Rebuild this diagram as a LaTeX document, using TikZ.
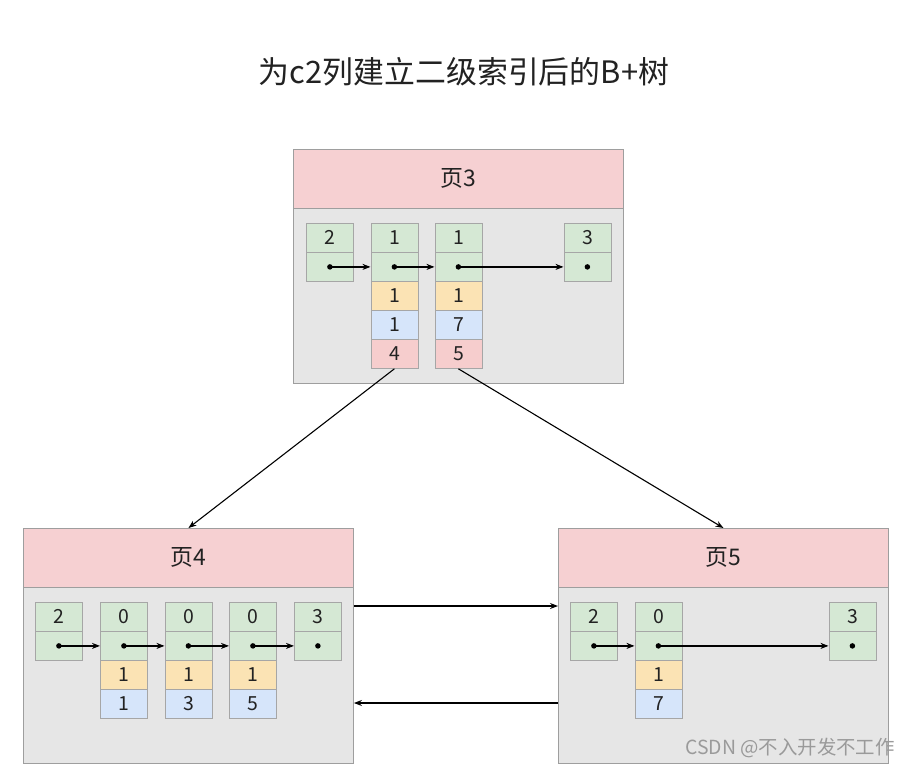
\documentclass[tikz,border=0pt]{standalone}
\usepackage{fontspec}
\newfontfamily\cjk{Noto Sans CJK SC}
\usetikzlibrary{arrows.meta}
\definecolor{phead}{HTML}{F6D0D2}
\definecolor{pbody}{HTML}{E6E6E6}
\definecolor{pline}{HTML}{9E9E9E}
\definecolor{cline}{HTML}{A6A6A6}
\definecolor{cg}{HTML}{D5E8D4}
\definecolor{co}{HTML}{FBE3B4}
\definecolor{cb}{HTML}{D6E5FA}
\definecolor{cr}{HTML}{F6CDCD}
\definecolor{wm}{HTML}{9A9A9A}
\definecolor{txt}{HTML}{222222}
\tikzset{
  cell/.style={draw=cline, line width=0.8bp, minimum width=47bp, minimum height=29bp, inner sep=0pt, anchor=north west, text=txt, font=\cjk\fontsize{19.5}{19.5}\selectfont},
  gcell/.style={cell, fill=cg},
  ocell/.style={cell, fill=co},
  bcell/.style={cell, fill=cb},
  rcell/.style={cell, fill=cr},
  pagehead/.style={draw=pline, line width=0.9bp, fill=phead, minimum width=330bp, minimum height=59bp, inner sep=0pt, anchor=north west, text=txt, font=\cjk\fontsize{23}{23}\selectfont},
  pagebody/.style={draw=pline, line width=0.9bp, fill=pbody, minimum width=330bp, inner sep=0pt, anchor=north west},
  dot/.style={circle, fill=black, inner sep=0pt, minimum size=5.5bp},
  ptr/.style={draw=black, line width=1.4bp, -{Stealth[length=8bp,width=6bp]}},
  link/.style={draw=black, line width=1.1bp, -{Stealth[length=8bp,width=6bp]}},
}
\begin{document}
\begin{tikzpicture}[x=1bp,y=-1bp]
\useasboundingbox[fill=white] (0,0) rectangle (910,771);
% title
\node[font=\cjk\fontsize{31}{31}\selectfont, text=txt] (title) at (464,72) {为c2列建立二级索引后的B+树};
% pages
\node[pagebody, minimum height=175bp] (p3b) at (293,208) {};
\node[pagehead] (p3h) at (293,149) {页3};
\node[pagebody, minimum height=176bp] (p4b) at (23,587) {};
\node[pagehead] (p4h) at (23,528) {页4};
\node[pagebody, minimum height=176bp] (p5b) at (558,587) {};
\node[pagehead] (p5h) at (558,528) {页5};
% page 3 cells
\node[gcell] (t3a) at (306,223) {2};
\node[gcell] (k3a) at (306,252) {};
\node[gcell] (t3b) at (370.5,223) {1};
\node[gcell] (k3b) at (370.5,252) {};
\node[ocell] (o3b) at (370.5,281) {1};
\node[bcell] (b3b) at (370.5,310) {1};
\node[rcell] (r3b) at (370.5,339) {4};
\node[gcell] (t3c) at (434.5,223) {1};
\node[gcell] (k3c) at (434.5,252) {};
\node[ocell] (o3c) at (434.5,281) {1};
\node[bcell] (b3c) at (434.5,310) {7};
\node[rcell] (r3c) at (434.5,339) {5};
\node[gcell] (t3d) at (563.5,223) {3};
\node[gcell] (k3d) at (563.5,252) {};
\node[dot] (d3a) at (k3a.center) {};
\node[dot] (d3b) at (k3b.center) {};
\node[dot] (d3c) at (k3c.center) {};
\node[dot] (d3d) at (k3d.center) {};
\draw[ptr] (d3a.center) -- (k3b.west);
\draw[ptr] (d3b.center) -- (k3c.west);
\draw[ptr] (d3c.center) -- (k3d.west);
% page 4 cells
\node[gcell] (t4a) at (35,602) {2};
\node[gcell] (k4a) at (35,631) {};
\node[gcell] (t4b) at (100,602) {0};
\node[gcell] (k4b) at (100,631) {};
\node[ocell] (o4b) at (100,660) {1};
\node[bcell] (b4b) at (100,689) {1};
\node[gcell] (t4c) at (164.5,602) {0};
\node[gcell] (k4c) at (164.5,631) {};
\node[ocell] (o4c) at (164.5,660) {1};
\node[bcell] (b4c) at (164.5,689) {3};
\node[gcell] (t4d) at (229,602) {0};
\node[gcell] (k4d) at (229,631) {};
\node[ocell] (o4d) at (229,660) {1};
\node[bcell] (b4d) at (229,689) {5};
\node[gcell] (t4e) at (294,602) {3};
\node[gcell] (k4e) at (294,631) {};
\node[dot] (d4a) at (k4a.center) {};
\node[dot] (d4b) at (k4b.center) {};
\node[dot] (d4c) at (k4c.center) {};
\node[dot] (d4d) at (k4d.center) {};
\node[dot] (d4e) at (k4e.center) {};
\draw[ptr] (d4a.center) -- (k4b.west);
\draw[ptr] (d4b.center) -- (k4c.west);
\draw[ptr] (d4c.center) -- (k4d.west);
\draw[ptr] (d4d.center) -- (k4e.west);
% page 5 cells
\node[gcell] (t5a) at (570,602) {2};
\node[gcell] (k5a) at (570,631) {};
\node[gcell] (t5b) at (634.5,602) {0};
\node[gcell] (k5b) at (634.5,631) {};
\node[ocell] (o5b) at (634.5,660) {1};
\node[bcell] (b5b) at (634.5,689) {7};
\node[gcell] (t5e) at (828.5,602) {3};
\node[gcell] (k5e) at (828.5,631) {};
\node[dot] (d5a) at (k5a.center) {};
\node[dot] (d5b) at (k5b.center) {};
\node[dot] (d5e) at (k5e.center) {};
\draw[ptr] (d5a.center) -- (k5b.west);
\draw[ptr] (d5b.center) -- (k5e.west);
% connectors between pages
\draw[link] (r3b.south) -- (p4h.north);
\draw[link] (r3c.south) -- (p5h.north);
\coordinate (h1) at (0,606);
\coordinate (h2) at (0,703);
\draw[link] (p4b.east |- h1) -- (p5b.west |- h1);
\draw[link] (p5b.west |- h2) -- (p4b.east |- h2);
% watermark
\node[font=\cjk\fontsize{19.5}{19.5}\selectfont, text=wm, anchor=east, inner sep=0pt] (wmk) at (895,748) {CSDN @不入开发不工作};
\end{tikzpicture}
\end{document}
